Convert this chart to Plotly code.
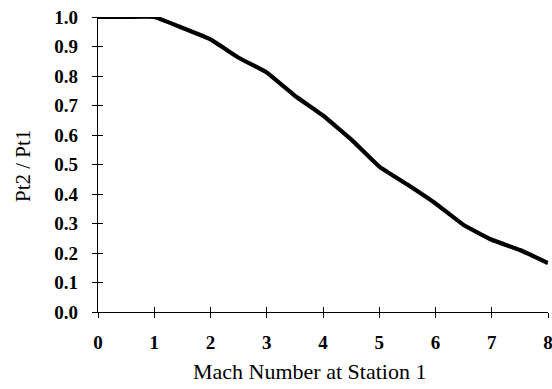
import plotly.graph_objects as go

mach = [0, 0.5, 1, 1.5, 2, 2.5, 3, 3.5, 4, 4.5, 5, 5.5, 6, 6.5, 7, 7.5, 8]
pt_ratio = [1.0, 1.0, 1.0, 0.963, 0.924, 0.862, 0.812, 0.733, 0.666, 0.585, 0.493, 0.432, 0.368, 0.295, 0.245, 0.21, 0.166]
x_ticks = [0, 1, 2, 3, 4, 5, 6, 7, 8]
y_ticks = [0.0, 0.1, 0.2, 0.3, 0.4, 0.5, 0.6, 0.7, 0.8, 0.9, 1.0]
y_labels = [f"{v:.1f}" for v in y_ticks]
x_title = "Mach Number at Station 1"
y_title = "Pt2 / Pt1"

font_family = "Liberation Serif"

fig = go.Figure()
fig.add_trace(go.Scatter(x=mach, y=pt_ratio, mode="lines",
                         line=dict(color="black", width=4.2, shape="spline", smoothing=0.3),
                         cliponaxis=False, showlegend=False, hoverinfo="skip"))
# invisible trace to anchor the inner-tick overlay axes
fig.add_trace(go.Scatter(x=[0, 8], y=[0, 1], xaxis="x2", yaxis="y2", mode="markers",
                         marker=dict(opacity=0), showlegend=False, hoverinfo="skip"))

common_axis = dict(showgrid=False, zeroline=False, ticklen=5, tickwidth=1.2, tickcolor="black",
                   automargin=False)
tick_font = dict(size=19, family=font_family, weight="bold")

fig.update_layout(
    width=552, height=389,
    margin=dict(l=98, r=4, t=17, b=77),
    paper_bgcolor="white", plot_bgcolor="white",
    font=dict(family=font_family, color="black"),
    xaxis=dict(range=[0, 8], tickvals=x_ticks, ticks="outside",
               showline=True, linecolor="black", linewidth=1.3,
               tickfont=tick_font, ticklabeloverflow="allow", ticklabelstandoff=8,
               **common_axis),
    yaxis=dict(range=[0, 1], tickvals=y_ticks, ticktext=y_labels, ticks="outside",
               showline=True, linecolor="black", linewidth=1.3,
               tickfont=tick_font, ticklabeloverflow="allow", ticklabelstandoff=10,
               **common_axis),
    xaxis2=dict(range=[0, 8], overlaying="x", anchor="y2", side="bottom", tickvals=x_ticks,
                ticks="inside", showticklabels=False, showline=False, **common_axis),
    yaxis2=dict(range=[0, 1], overlaying="y", anchor="x2", side="left", tickvals=y_ticks,
                ticks="inside", showticklabels=False, showline=False, **common_axis),
    annotations=[
        dict(text=x_title, xref="paper", yref="paper", x=(309 - 98) / 450, y=-(372 - 312) / 295,
             xanchor="center", yanchor="middle", showarrow=False,
             font=dict(size=22, family=font_family, color="black")),
        dict(text=y_title, xref="paper", yref="paper", x=-(98 - 23) / 450, y=(312 - 166) / 295,
             xanchor="center", yanchor="middle", showarrow=False, textangle=-90,
             font=dict(size=21, family=font_family, color="black")),
    ],
)

fig.write_html("out.html")
